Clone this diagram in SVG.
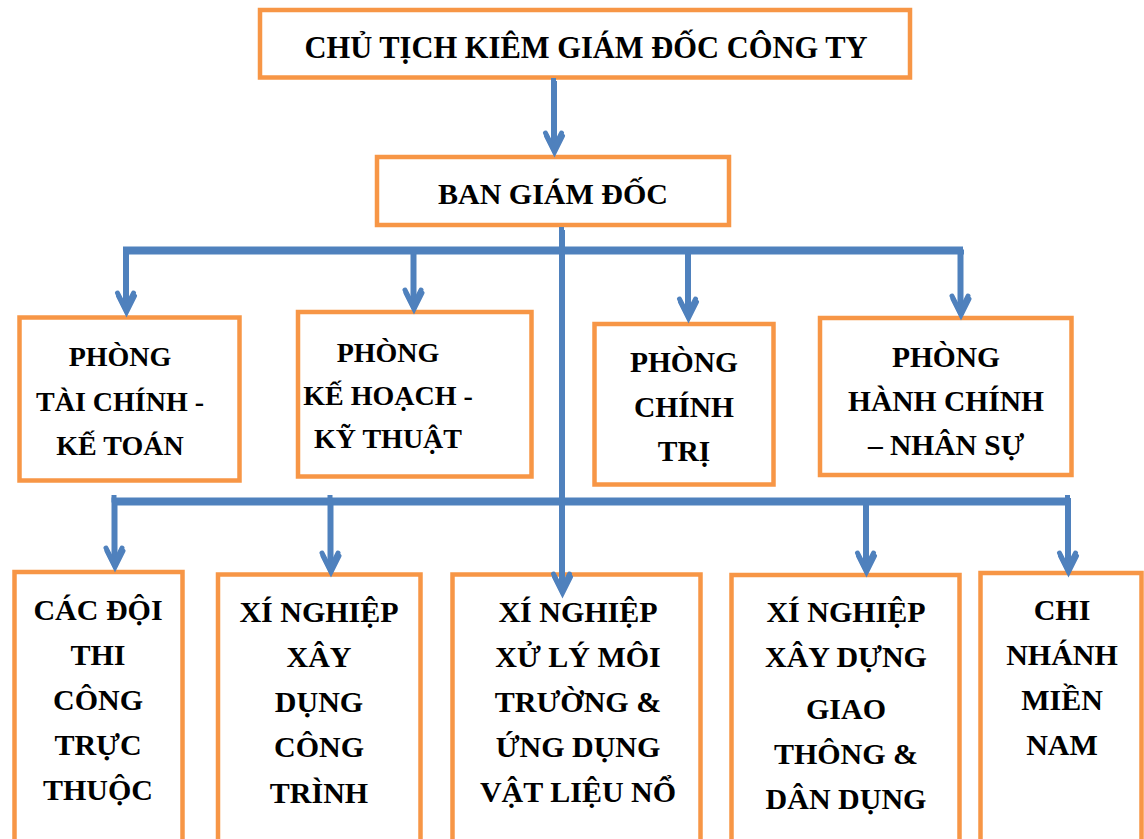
<svg xmlns="http://www.w3.org/2000/svg" xmlns:xlink="http://www.w3.org/1999/xlink" width="1144" height="839" viewBox="0 0 1144 839">
<style>
.box{fill:#ffffff;stroke:#F79646;stroke-width:4.5}
text{font-weight:bold;fill:#000;text-anchor:middle}
.t30{font-size:30px}
.t28{font-size:28px}
.t29{font-size:29.5px}
.ln{fill:none;stroke:#4F81BD;stroke-width:5;stroke-linecap:butt}
.ah{fill:none;stroke:#4F81BD;stroke-width:5;stroke-linecap:round;stroke-linejoin:miter}
.sh .ln,.sh .ah{stroke:#999999}
</style>
<defs>
<g id="cp">
<path class="ln" d="M553.5,78 V149"/>
<path class="ah" d="M545.5,133 L553.5,149 L561.5,133"/>
<path class="ln" d="M561.5,227 V590"/>
<path class="ah" d="M553.5,574 L561.5,590 L569.5,574"/>
<path class="ln" d="M123,249 H963"/>
<path class="ln" d="M125.5,249 V309"/>
<path class="ah" d="M117.5,293 L125.5,309 L133.5,293"/>
<path class="ln" d="M413,249 V306"/>
<path class="ah" d="M405,290 L413,306 L421,290"/>
<path class="ln" d="M687.5,249 V315"/>
<path class="ah" d="M679.5,299 L687.5,315 L695.5,299"/>
<path class="ln" d="M960,249 V312"/>
<path class="ah" d="M952,296 L960,312 L968,296"/>
<path class="ln" d="M111.5,500 H1070"/>
<path class="ln" d="M114,495 V564"/>
<path class="ah" d="M106,548 L114,564 L122,548"/>
<path class="ln" d="M330,495 V569"/>
<path class="ah" d="M322,553 L330,569 L338,553"/>
<path class="ln" d="M865.5,500 V569"/>
<path class="ah" d="M857.5,553 L865.5,569 L873.5,553"/>
<path class="ln" d="M1067.5,495 V569"/>
<path class="ah" d="M1059.5,553 L1067.5,569 L1075.5,553"/>
</g>
</defs>
<g font-family="Liberation Serif, serif">
<g id="n-chutich">
<rect class="box" x="260" y="10" width="650" height="67.5"/>
<text class="t30" x="586" y="58" style="font-size:30.5px">CHỦ TỊCH KIÊM GIÁM ĐỐC CÔNG TY</text>
</g>
<g id="n-bangiamdoc">
<rect class="box" x="377" y="157" width="352" height="68"/>
<text class="t30" x="553" y="204">BAN GIÁM ĐỐC</text>
</g>
<g id="n-taichinh">
<rect class="box" x="19.5" y="317.5" width="220" height="163"/>
<text class="t28" x="120"><tspan x="120" y="366">PHÒNG</tspan><tspan x="120" y="411">TÀI CHÍNH -</tspan><tspan x="120" y="455">KẾ TOÁN</tspan></text>
</g>
<g id="n-kehoach">
<rect class="box" x="298" y="312" width="233.5" height="164.5"/>
<text class="t28" x="388"><tspan x="388" y="362">PHÒNG</tspan><tspan x="388" y="405">KẾ HOẠCH -</tspan><tspan x="388" y="448">KỸ THUẬT</tspan></text>
</g>
<g id="n-chinhtri">
<rect class="box" x="594.5" y="324" width="179" height="160.5"/>
<text class="t29" x="684"><tspan x="684" y="372">PHÒNG</tspan><tspan x="684" y="417">CHÍNH</tspan><tspan x="684" y="461">TRỊ</tspan></text>
</g>
<g id="n-hanhchinh">
<rect class="box" x="820" y="318" width="251.5" height="157"/>
<text class="t29" x="946"><tspan x="946" y="367">PHÒNG</tspan><tspan x="946" y="411">HÀNH CHÍNH</tspan><tspan x="946" y="455">– NHÂN SỰ</tspan></text>
</g>
<g id="n-cacdoi">
<rect class="box" x="14.5" y="572" width="168" height="300"/>
<text class="t30" x="98"><tspan x="98" y="620">CÁC ĐỘI</tspan><tspan x="98" y="665">THI</tspan><tspan x="98" y="710">CÔNG</tspan><tspan x="98" y="755">TRỰC</tspan><tspan x="98" y="800">THUỘC</tspan></text>
</g>
<g id="n-xaydungcongtrinh">
<rect class="box" x="218" y="574.5" width="202.5" height="300"/>
<text class="t30" x="319"><tspan x="319" y="622">XÍ NGHIỆP</tspan><tspan x="319" y="667">XÂY</tspan><tspan x="319" y="712">DỤNG</tspan><tspan x="319" y="757">CÔNG</tspan><tspan x="319" y="803">TRÌNH</tspan></text>
</g>
<g id="n-xulymoitruong">
<rect class="box" x="452.5" y="574.5" width="248" height="300"/>
<text class="t30" x="578"><tspan x="578" y="622">XÍ NGHIỆP</tspan><tspan x="578" y="667">XỬ LÝ MÔI</tspan><tspan x="578" y="712">TRƯỜNG &amp;</tspan><tspan x="578" y="757">ỨNG DỤNG</tspan><tspan x="578" y="802">VẬT LIỆU NỔ</tspan></text>
</g>
<g id="n-giaothong">
<rect class="box" x="731.5" y="575" width="228" height="300"/>
<text class="t30" x="846"><tspan x="846" y="622">XÍ NGHIỆP</tspan><tspan x="846" y="667">XÂY DỰNG</tspan><tspan x="846" y="719">GIAO</tspan><tspan x="846" y="764">THÔNG &amp;</tspan><tspan x="846" y="809">DÂN DỤNG</tspan></text>
</g>
<g id="n-chinhanh">
<rect class="box" x="980.5" y="573" width="161" height="300"/>
<text class="t30" x="1062"><tspan x="1062" y="620">CHI</tspan><tspan x="1062" y="665">NHÁNH</tspan><tspan x="1062" y="710">MIỀN</tspan><tspan x="1062" y="755">NAM</tspan></text>
</g>
</g>
<g id="connectors">
<g class="sh" transform="translate(1,3)"><use xlink:href="#cp" href="#cp"/></g>
<use xlink:href="#cp" href="#cp"/>
</g>
</svg>
